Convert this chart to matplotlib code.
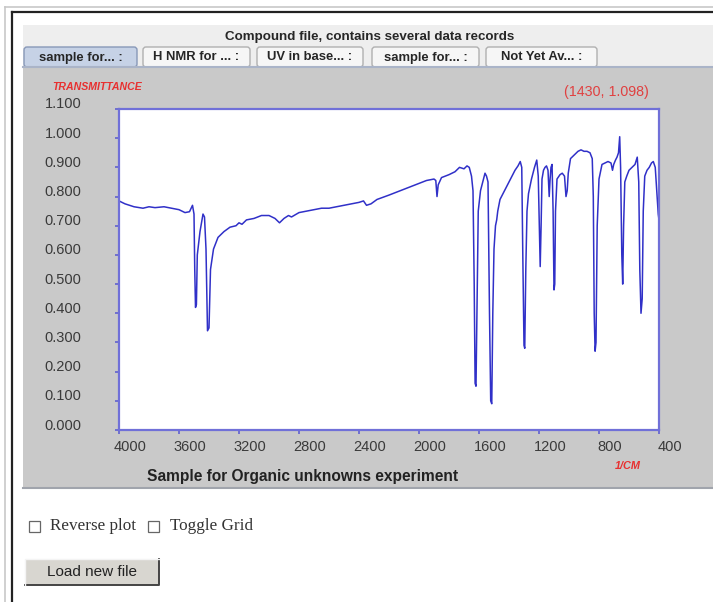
import matplotlib
matplotlib.use("Agg")
import matplotlib.pyplot as plt
import matplotlib.patches as mpatches
import matplotlib.transforms as mtransforms

# ---- data ----
wavenumber = [4000, 3960, 3900, 3840, 3800, 3760, 3700, 3650, 3600, 3560, 3530, 3510,
              3500, 3495, 3490, 3484, 3478, 3460, 3440, 3430, 3420, 3410, 3400, 3390,
              3370, 3340, 3300, 3260, 3220, 3200, 3180, 3150, 3100, 3050, 3000, 2960,
              2930, 2900, 2870, 2850, 2800, 2750, 2700, 2650, 2600, 2550, 2500, 2450,
              2400, 2370, 2350, 2320, 2280, 2200, 2150, 2100, 2050, 2000, 1950, 1900,
              1888, 1880, 1872, 1850, 1800, 1760, 1730, 1700, 1680, 1665, 1650, 1640,
              1632, 1626, 1620, 1614, 1605, 1590, 1570, 1560, 1550, 1540, 1530, 1522,
              1515, 1508, 1500, 1490, 1482, 1475, 1460, 1440, 1420, 1400, 1380, 1360,
              1340, 1325, 1315, 1308, 1300, 1295, 1288, 1280, 1270, 1250, 1230, 1215,
              1205, 1198, 1192, 1186, 1180, 1170, 1160, 1150, 1140, 1132, 1126, 1120,
              1113, 1106, 1100, 1095, 1090, 1080, 1060, 1045, 1030, 1020, 1012, 1005,
              990, 960, 940, 920, 900, 880, 860, 845, 838, 832, 826, 820,
              812, 800, 780, 760, 740, 720, 710, 702, 690, 680, 670, 662,
              656, 648, 642, 636, 628, 615, 600, 580, 560, 545, 535, 528,
              520, 512, 505, 495, 480, 465, 450, 438, 425, 415, 405, 400]
transmittance = [0.785, 0.775, 0.765, 0.760, 0.765, 0.762, 0.765, 0.760, 0.755, 0.745, 0.748, 0.770,
                 0.740, 0.55, 0.42, 0.43, 0.60, 0.68, 0.74, 0.73, 0.62, 0.34, 0.35, 0.55,
                 0.62, 0.66, 0.68, 0.695, 0.70, 0.71, 0.705, 0.72, 0.725, 0.735, 0.735, 0.725,
                 0.710, 0.725, 0.735, 0.73, 0.745, 0.75, 0.755, 0.760, 0.760, 0.765, 0.770, 0.775,
                 0.78, 0.785, 0.77, 0.775, 0.79, 0.805, 0.815, 0.825, 0.835, 0.845, 0.855, 0.86,
                 0.855, 0.80, 0.84, 0.865, 0.875, 0.885, 0.90, 0.895, 0.905, 0.90, 0.87, 0.82,
                 0.50, 0.16, 0.15, 0.40, 0.75, 0.82, 0.86, 0.88, 0.87, 0.85, 0.40, 0.10,
                 0.09, 0.40, 0.62, 0.70, 0.72, 0.75, 0.79, 0.81, 0.83, 0.85, 0.87, 0.89,
                 0.905, 0.92, 0.90, 0.60, 0.29, 0.28, 0.55, 0.75, 0.81, 0.86, 0.90, 0.925,
                 0.87, 0.70, 0.56, 0.70, 0.86, 0.89, 0.90, 0.905, 0.89, 0.80, 0.86, 0.90,
                 0.91, 0.75, 0.48, 0.50, 0.75, 0.86, 0.875, 0.88, 0.87, 0.80, 0.82, 0.88,
                 0.93, 0.945, 0.955, 0.96, 0.955, 0.955, 0.95, 0.93, 0.80, 0.40, 0.27, 0.30,
                 0.70, 0.86, 0.91, 0.915, 0.92, 0.915, 0.89, 0.91, 0.925, 0.935, 0.95, 1.005,
                 0.90, 0.60, 0.50, 0.70, 0.85, 0.87, 0.89, 0.90, 0.91, 0.935, 0.85, 0.55,
                 0.40, 0.45, 0.75, 0.87, 0.89, 0.90, 0.915, 0.92, 0.90, 0.82, 0.74, 0.72]

x_ticks = [4000, 3600, 3200, 2800, 2400, 2000, 1600, 1200, 800, 400]
y_ticks = [0.0, 0.1, 0.2, 0.3, 0.4, 0.5, 0.6, 0.7, 0.8, 0.9, 1.0, 1.1]
tab_labels = ["sample for... :", "H NMR for ... :", "UV in base... :", "sample for... :", "Not Yet Av... :"]

W, H = 713, 602
fig = plt.figure(figsize=(W / 100, H / 100), dpi=100)
fig.patch.set_facecolor("white")

SANS = ["Liberation Sans", "DejaVu Sans"]
SERIF = ["Liberation Serif", "DejaVu Serif"]

# ---- background UI layer in pixel coordinates ----
bg = fig.add_axes([0, 0, 1, 1])
bg.set_xlim(0, W)
bg.set_ylim(H, 0)
bg.axis("off")

# outer frame lines
bg.plot([5, 5], [7, H], color="#c8c8c8", lw=1.2)
bg.plot([5, W], [7, 7], color="#c8c8c8", lw=1.2)
bg.plot([12, 12], [12, H], color="#222222", lw=1.6)
bg.plot([12, W], [12, 12], color="#222222", lw=1.6)

# title band
bg.add_patch(mpatches.Rectangle((23, 25), W - 23, 42, facecolor="#eeeeee", edgecolor="none"))
bg.text(370, 37, "Compound file, contains several data records", ha="center", va="center",
        fontsize=9.6, color="#262626", family=SANS, weight="bold")

# tabs
tab_x = [(24, 137), (143, 250), (257, 363), (372, 479), (486, 597)]
for i, ((x0, x1), lab) in enumerate(zip(tab_x, tab_labels)):
    face = "#c6d2e6" if i == 0 else "#f6f6f6"
    edge = "#8898b8" if i == 0 else "#b0b0b0"
    bg.add_patch(mpatches.FancyBboxPatch((x0, 47), x1 - x0, 20, boxstyle="round,pad=0,rounding_size=3",
                                         facecolor=face, edgecolor=edge, lw=1.0))
    bg.text((x0 + x1) / 2, 57.5, lab, ha="center", va="center", fontsize=9.4,
            color="#262626", family=SANS, weight="bold")

# grey chart panel
bg.add_patch(mpatches.Rectangle((23, 66), W - 23, 422, facecolor="#c9c9c9", edgecolor="none"))
bg.plot([23, W], [66.5, 66.5], color="#aab4c8", lw=1.5)
bg.plot([23, W], [488, 488], color="#a0a4ac", lw=1.5)

bg.text(52, 87, "TRANSMITTANCE", ha="left", va="center", fontsize=7.6, color="#e83030",
        style="italic", weight="bold", family=SANS)
bg.text(649, 92, "(1430, 1.098)", ha="right", va="center", fontsize=10.3, color="#e04040", family=SANS)
bg.text(628, 466, "1/CM", ha="center", va="center", fontsize=7.8, color="#e83030",
        style="italic", weight="bold", family=SANS)
bg.text(147, 476, "Sample for Organic unknowns experiment", ha="left", va="center",
        fontsize=11.2, weight="bold", color="#222222", family=SANS)

# checkboxes
for cx in (29, 148):
    bg.add_patch(mpatches.Rectangle((cx, 521), 11, 11, facecolor="white", edgecolor="#666666", lw=0.9))
bg.text(50, 526, "Reverse plot", ha="left", va="center", fontsize=12.3, color="#333333", family=SERIF)
bg.text(170, 526, "Toggle Grid", ha="left", va="center", fontsize=12.3, color="#333333", family=SERIF)

# button
bg.add_patch(mpatches.Rectangle((25, 559), 134, 26, facecolor="#d8d6d0", edgecolor="none"))
bg.plot([25, 159, 159], [585, 585, 559], color="#444444", lw=1.4)
bg.plot([25, 25, 159], [585, 559, 559], color="#f4f4f4", lw=1.0)
bg.text(92, 572, "Load new file", ha="center", va="center", fontsize=11, color="#222222", family=SANS)

# ---- spectrum axes ----
left, right, top, bottom = 119, 659, 109, 430
ax = fig.add_axes([left / W, 1 - bottom / H, (right - left) / W, (bottom - top) / H])
ax.set_facecolor("white")
ax.plot(wavenumber, transmittance, color="#3030c8", lw=1.1)
ax.set_xlim(4000, 400)
ax.set_ylim(0, 1.1)
ax.set_xticks(x_ticks)
ax.set_xticklabels([str(t) for t in x_ticks])
ax.set_yticks(y_ticks)
ax.set_yticklabels([f"{t:.3f}" for t in y_ticks])
for s in ax.spines.values():
    s.set_color("#7070d8")
    s.set_linewidth(1.6)
ax.tick_params(axis="both", colors="#3a3a3a", labelsize=10.5, length=3, width=1.2, direction="out")
ax.tick_params(axis="x", color="#6060d0", pad=4.5)
ax.tick_params(axis="y", color="#6060d0", pad=24)
for lab in ax.get_xticklabels():
    lab.set_family(SANS)
    lab.set_transform(lab.get_transform() + mtransforms.ScaledTranslation(11 / 100, 0, fig.dpi_scale_trans))
for lab in ax.get_yticklabels():
    lab.set_family(SANS)
    lab.set_transform(lab.get_transform() + mtransforms.ScaledTranslation(0, 6 / 100, fig.dpi_scale_trans))

fig.savefig("out.png", dpi=100)
